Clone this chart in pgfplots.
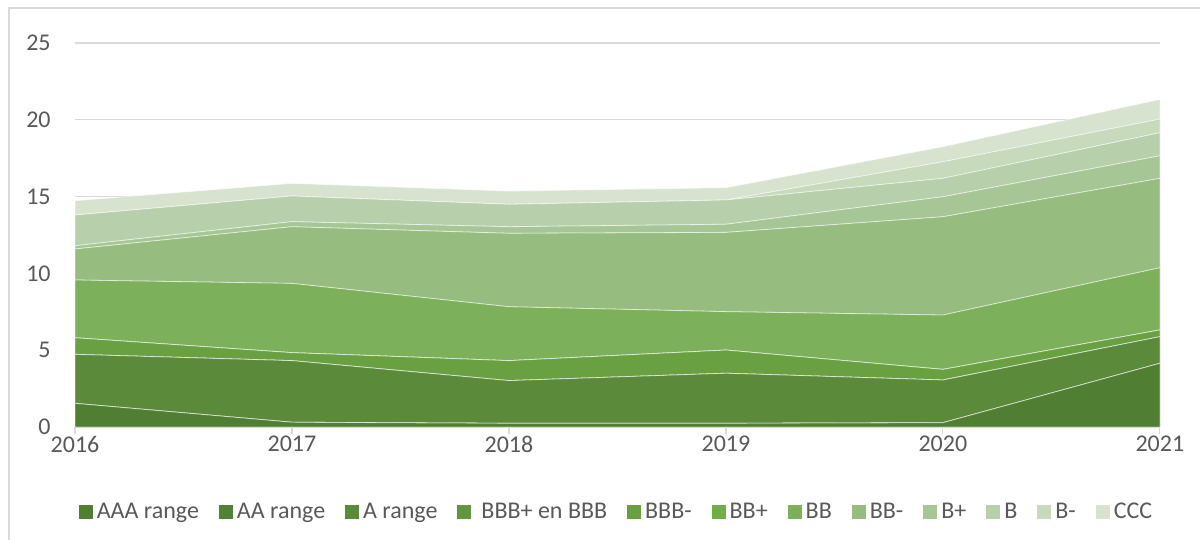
\documentclass[border=0pt]{standalone}
\usepackage{fontspec}
\setmainfont{Carlito}
\usepackage{pgfplots}
\usepackage{pgfplotstable}
\pgfplotsset{compat=1.18}

\definecolor{txtgray}{HTML}{595959}
\definecolor{gridgray}{HTML}{D9D9D9}
\definecolor{cAAA}{HTML}{507E32}
\definecolor{cAA}{HTML}{548235}
\definecolor{cA}{HTML}{5A8A3A}
\definecolor{cBBBp}{HTML}{62963E}
\definecolor{cBBBm}{HTML}{69A041}
\definecolor{cBBp}{HTML}{70AD47}
\definecolor{cBB}{HTML}{7DB05B}
\definecolor{cBBm}{HTML}{96BD7F}
\definecolor{cBp}{HTML}{A6C795}
\definecolor{cB}{HTML}{B7CFAA}
\definecolor{cBm}{HTML}{C7DABC}
\definecolor{cCCC}{HTML}{D7E3CF}

% stacked shares per rating bucket
\pgfplotstableread{
year AAA  AA  A    BBBp BBBm BBp BB   BBm  Bp   B    Bm   CCC
2016 1.54 0   3.19 0    1.08 0   3.76 2.02 0.21 2.00 0    0.93
2017 0.31 0   4.01 0    0.52 0   4.51 3.69 0.33 1.67 0    0.82
2018 0.24 0   2.78 0    1.30 0   3.51 4.78 0.43 1.46 0    0.86
2019 0.24 0   3.26 0    1.51 0   2.50 5.16 0.53 1.58 0    0.80
2020 0.28 0   2.78 0    0.69 0   3.54 6.40 1.30 1.20 1.08 0.98
2021 4.15 0   1.73 0    0.44 0   4.05 5.82 1.47 1.50 0.89 1.28
}\ratings

\tikzset{lay/.style={fill=#1, draw=white, draw opacity=0.55, line width=0.4pt}}

\begin{document}
\begin{tikzpicture}
\useasboundingbox (0,0) rectangle (600pt,270pt);
\fill[white] (0,0) rectangle (600pt,270pt);
\draw[gridgray, line width=0.6pt] (4.5pt,0) -- (4.5pt,266pt) -- (600pt,266pt);
\begin{axis}[
  at={(37.5pt,56.5pt)}, anchor=south west, scale only axis,
  width=542.5pt, height=192pt,
  xmin=2016, xmax=2021, ymin=0, ymax=25,
  xtick={2016,...,2021}, ytick={0,5,...,25},
  stack plots=y,
  axis x line*=bottom, axis y line*=left,
  y axis line style={draw=none},
  x axis line style={draw=gridgray, line width=0.6pt},
  ytick style={draw=none},
  xtick style={draw=gridgray, line width=0.6pt},
  tick align=outside, major tick length=3.5pt,
  ymajorgrids, grid style={draw=gridgray, line width=0.6pt},
  /pgf/number format/assume math mode=true,
  /pgf/number format/1000 sep={},
  tick label style={font=\fontsize{12}{14}\selectfont, text=txtgray},
  yticklabel style={anchor=east, inner sep=0pt, xshift=-8.5pt},
  xticklabel style={anchor=north, inner sep=0pt, yshift=-1pt},
  legend columns=12,
  legend cell align=left,
  legend style={at={(0.5,-0.2214)}, anchor=center, draw=none, fill=none,
    inner sep=0pt, font=\fontsize{12}{14}\selectfont, text=txtgray,
    nodes={inner sep=2pt},
    /tikz/every even column/.append style={column sep=8pt}},
  legend image code/.code={\fill[#1, draw=none] (0pt,-3.5pt) rectangle (7pt,3.5pt);},
]
\addplot[lay=cAAA]  table[x=year,y=AAA]  {\ratings} \closedcycle;
\addplot[lay=cAA]   table[x=year,y=AA]   {\ratings} \closedcycle;
\addplot[lay=cA]    table[x=year,y=A]    {\ratings} \closedcycle;
\addplot[lay=cBBBp] table[x=year,y=BBBp] {\ratings} \closedcycle;
\addplot[lay=cBBBm] table[x=year,y=BBBm] {\ratings} \closedcycle;
\addplot[lay=cBBp]  table[x=year,y=BBp]  {\ratings} \closedcycle;
\addplot[lay=cBB]   table[x=year,y=BB]   {\ratings} \closedcycle;
\addplot[lay=cBBm]  table[x=year,y=BBm]  {\ratings} \closedcycle;
\addplot[lay=cBp]   table[x=year,y=Bp]   {\ratings} \closedcycle;
\addplot[lay=cB]    table[x=year,y=B]    {\ratings} \closedcycle;
\addplot[lay=cBm]   table[x=year,y=Bm]   {\ratings} \closedcycle;
\addplot[lay=cCCC]  table[x=year,y=CCC]  {\ratings} \closedcycle;
\legend{AAA range,AA range,A range,\hspace{3pt}BBB+ en BBB,BBB-,BB+,BB,BB-,B+,B,B-,CCC}
\end{axis}
\end{tikzpicture}
\end{document}
